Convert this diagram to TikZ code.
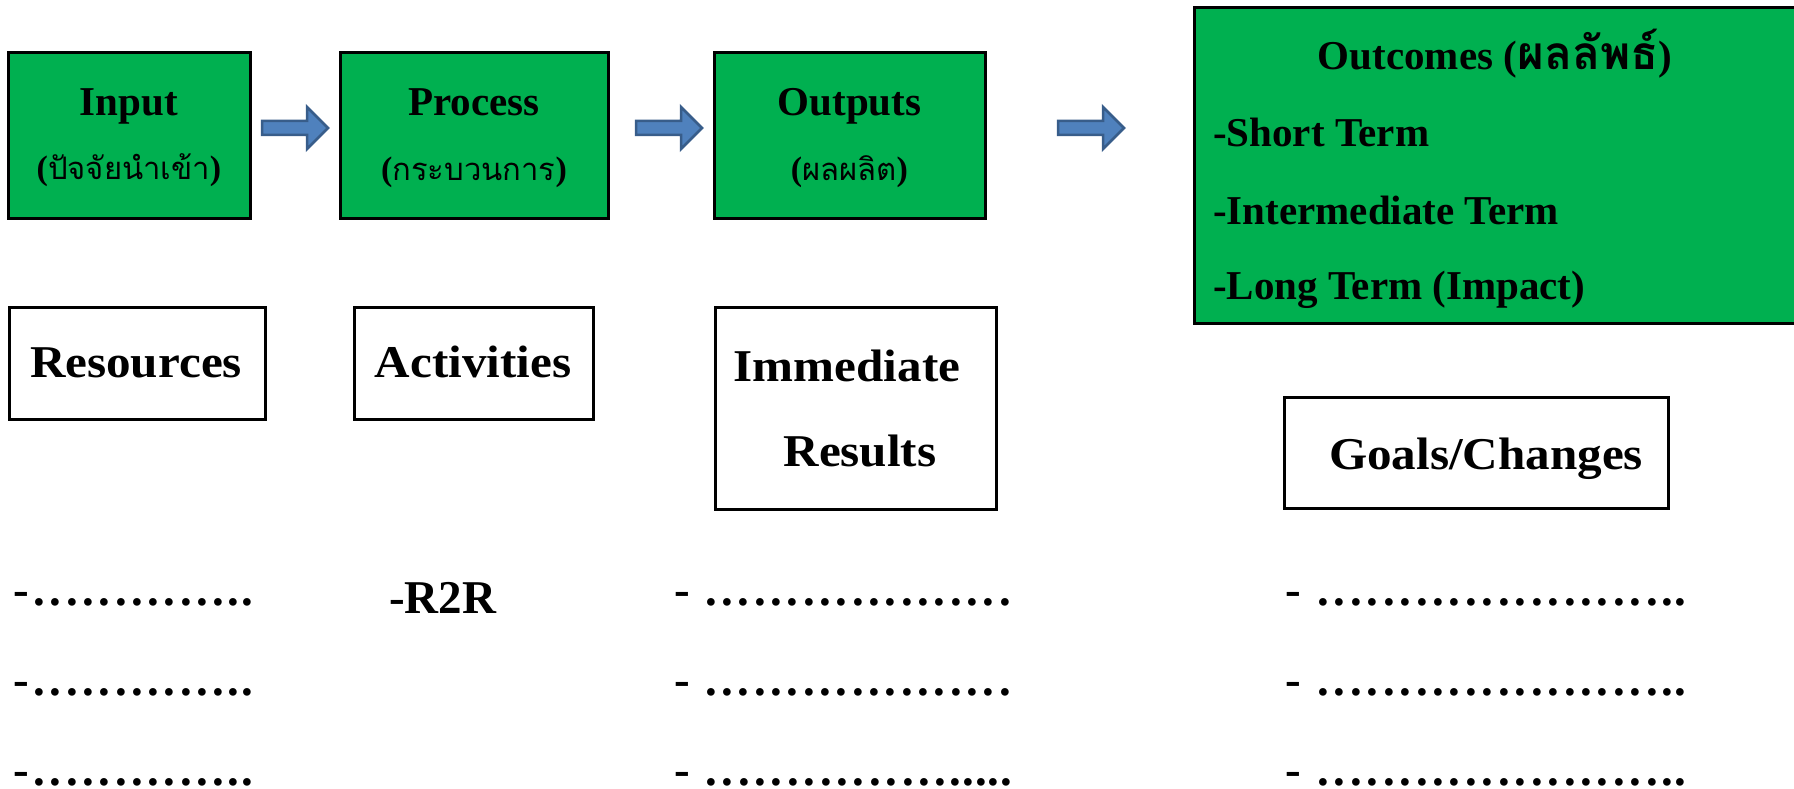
\documentclass[tikz,border=0pt]{standalone}
\usepackage{fontspec}
\setmainfont{Liberation Serif}
\newfontfamily\widefont{Liberation Serif}[FakeStretch=1.08]
\newfontfamily\thaifont[Script=Thai]{Loma}

\definecolor{boxgreen}{HTML}{00B050}
\definecolor{arrowfill}{HTML}{4F81BD}
\definecolor{arrowline}{HTML}{385D8A}

% a run of evenly spaced full stops: #1 = how many, #2 = pitch
\newcount\dotidx
\newcommand{\dotrun}[2]{\dotidx=0 \loop\ifnum\dotidx<#1\relax\hbox to #2{\hss.\hss}\advance\dotidx by 1 \repeat}
% Thai words inside the small green-box captions
\newcommand{\thaicap}[1]{{\thaifont\mdseries\fontsize{31}{37}\selectfont #1}}

\tikzset{
  greenbox/.style={draw=black, line width=3pt, fill=boxgreen, inner sep=0pt},
  plainbox/.style={draw=black, line width=3pt, fill=white, inner sep=0pt},
  title/.style={inner sep=0pt, font=\bfseries\fontsize{41}{49}\selectfont},
  subtitle/.style={inner sep=0pt, font=\bfseries\fontsize{34}{40}\selectfont},
  boxlabel/.style={inner sep=0pt, font=\widefont\bfseries\fontsize{45.5}{54}\selectfont},
  dotrow/.style={inner sep=0pt, text depth=0pt, anchor=base west, font=\bfseries\fontsize{47}{56}\selectfont},
  blockarrow/.pic={
    \draw[arrowline, fill=arrowfill, line width=2.5pt, line join=miter]
      (0,-7) -- (45,-7) -- (45,-21) -- (66,0) -- (45,21) -- (45,7) -- (0,7) -- cycle;
  }
}

\begin{document}
\begin{tikzpicture}[x=1pt, y=-1pt]
\useasboundingbox (0,0) rectangle (1794,789);
\fill[white] (0,0) rectangle (1794,789);

% ---- top row: logic-model stages ----
\node[greenbox, minimum width=242, minimum height=165] (input)    at (129,135.5) {};
\node[greenbox, minimum width=268, minimum height=165] (process)  at (474,135.5) {};
\node[greenbox, minimum width=271, minimum height=165] (outputs)  at (849.5,135.5) {};
\node[greenbox, minimum width=606, minimum height=315] (outcomes) at (1497,165.5) {};

\node[title, anchor=base] (inputT)   at (129,116)   {Input};
\node[title, anchor=base] (processT) at (474,116)   {Process};
\node[title, anchor=base] (outputsT) at (849.5,116) {Outputs};

\node[subtitle, anchor=base] (inputS)   at (129,179)   {(\thaicap{ปัจจัยนำเข้า})};
\node[subtitle, anchor=base] (processS) at (474,181)   {(\thaicap{กระบวนการ})};
\node[subtitle, anchor=base] (outputsS) at (849.5,181) {(\thaicap{ผลผลิต})};

\node[title, anchor=base] (outcomesT) at (1495,70)
  {Outcomes ({\thaifont\fontsize{46}{54}\selectfont ผลลัพธ์})};
\node[title, anchor=base west] (shortT) at (1213,147) {-Short Term};
\node[title, anchor=base west] (midT)   at (1213,224) {-Intermediate Term};
\node[title, anchor=base west] (longT)  at (1213,299) {-Long Term (Impact)};

% block arrows between the stages
\coordinate (arrA) at (262,128);
\coordinate (arrB) at (636,128);
\coordinate (arrC) at (1058,128);
\pic at (arrA) {blockarrow};
\pic at (arrB) {blockarrow};
\pic at (arrC) {blockarrow};

% ---- second row: what each stage holds ----
\node[plainbox, minimum width=256, minimum height=112] (resources)  at (137,363) {};
\node[plainbox, minimum width=239, minimum height=112] (activities) at (473.5,363) {};
\node[plainbox, minimum width=281, minimum height=202] (immediate)  at (855.5,408) {};
\node[plainbox, minimum width=384, minimum height=111] (goals)      at (1476,452.5) {};

\node[boxlabel, anchor=base] (resT)  at (136,377)  {Resources};
\node[boxlabel, anchor=base] (actT)  at (473,377)  {Activities};
\node[boxlabel, anchor=base] (immT)  at (847,381)  {Immediate};
\node[boxlabel, anchor=base] (resuT) at (860,466)  {Results};
\node[boxlabel, anchor=base] (goalT) at (1486,469) {Goals/Changes};

% ---- bottom rows: entries to fill in ----
\node[dotrow] (resA) at (13,605.5) {-\kern2.4pt\dotrun{12}{16.3pt}\dotrun{2}{13.5pt}};
\node[dotrow] (resB) at (13,695.5) {-\kern2.4pt\dotrun{12}{16.3pt}\dotrun{2}{13.5pt}};
\node[dotrow] (resC) at (13,785)   {-\kern2.4pt\dotrun{12}{16.3pt}\dotrun{2}{13.5pt}};

\node[dotrow] (actA) at (389,613) {-R2R};

\node[dotrow] (immA) at (674,605.5) {-\kern13.2pt\dotrun{19}{16.33pt}};
\node[dotrow] (immB) at (674,695.5) {-\kern13.2pt\dotrun{19}{16.33pt}};
\node[dotrow] (immC) at (674,785)   {-\kern13.2pt\dotrun{15}{16.4pt}\dotrun{5}{12.8pt}};

\node[dotrow] (goalA) at (1285,605.5) {-\kern14.1pt\dotrun{21}{16.45pt}\dotrun{2}{13.3pt}};
\node[dotrow] (goalB) at (1285,695.5) {-\kern14.1pt\dotrun{21}{16.45pt}\dotrun{2}{13.3pt}};
\node[dotrow] (goalC) at (1285,785)   {-\kern14.1pt\dotrun{21}{16.45pt}\dotrun{2}{13.3pt}};
\end{tikzpicture}
\end{document}
